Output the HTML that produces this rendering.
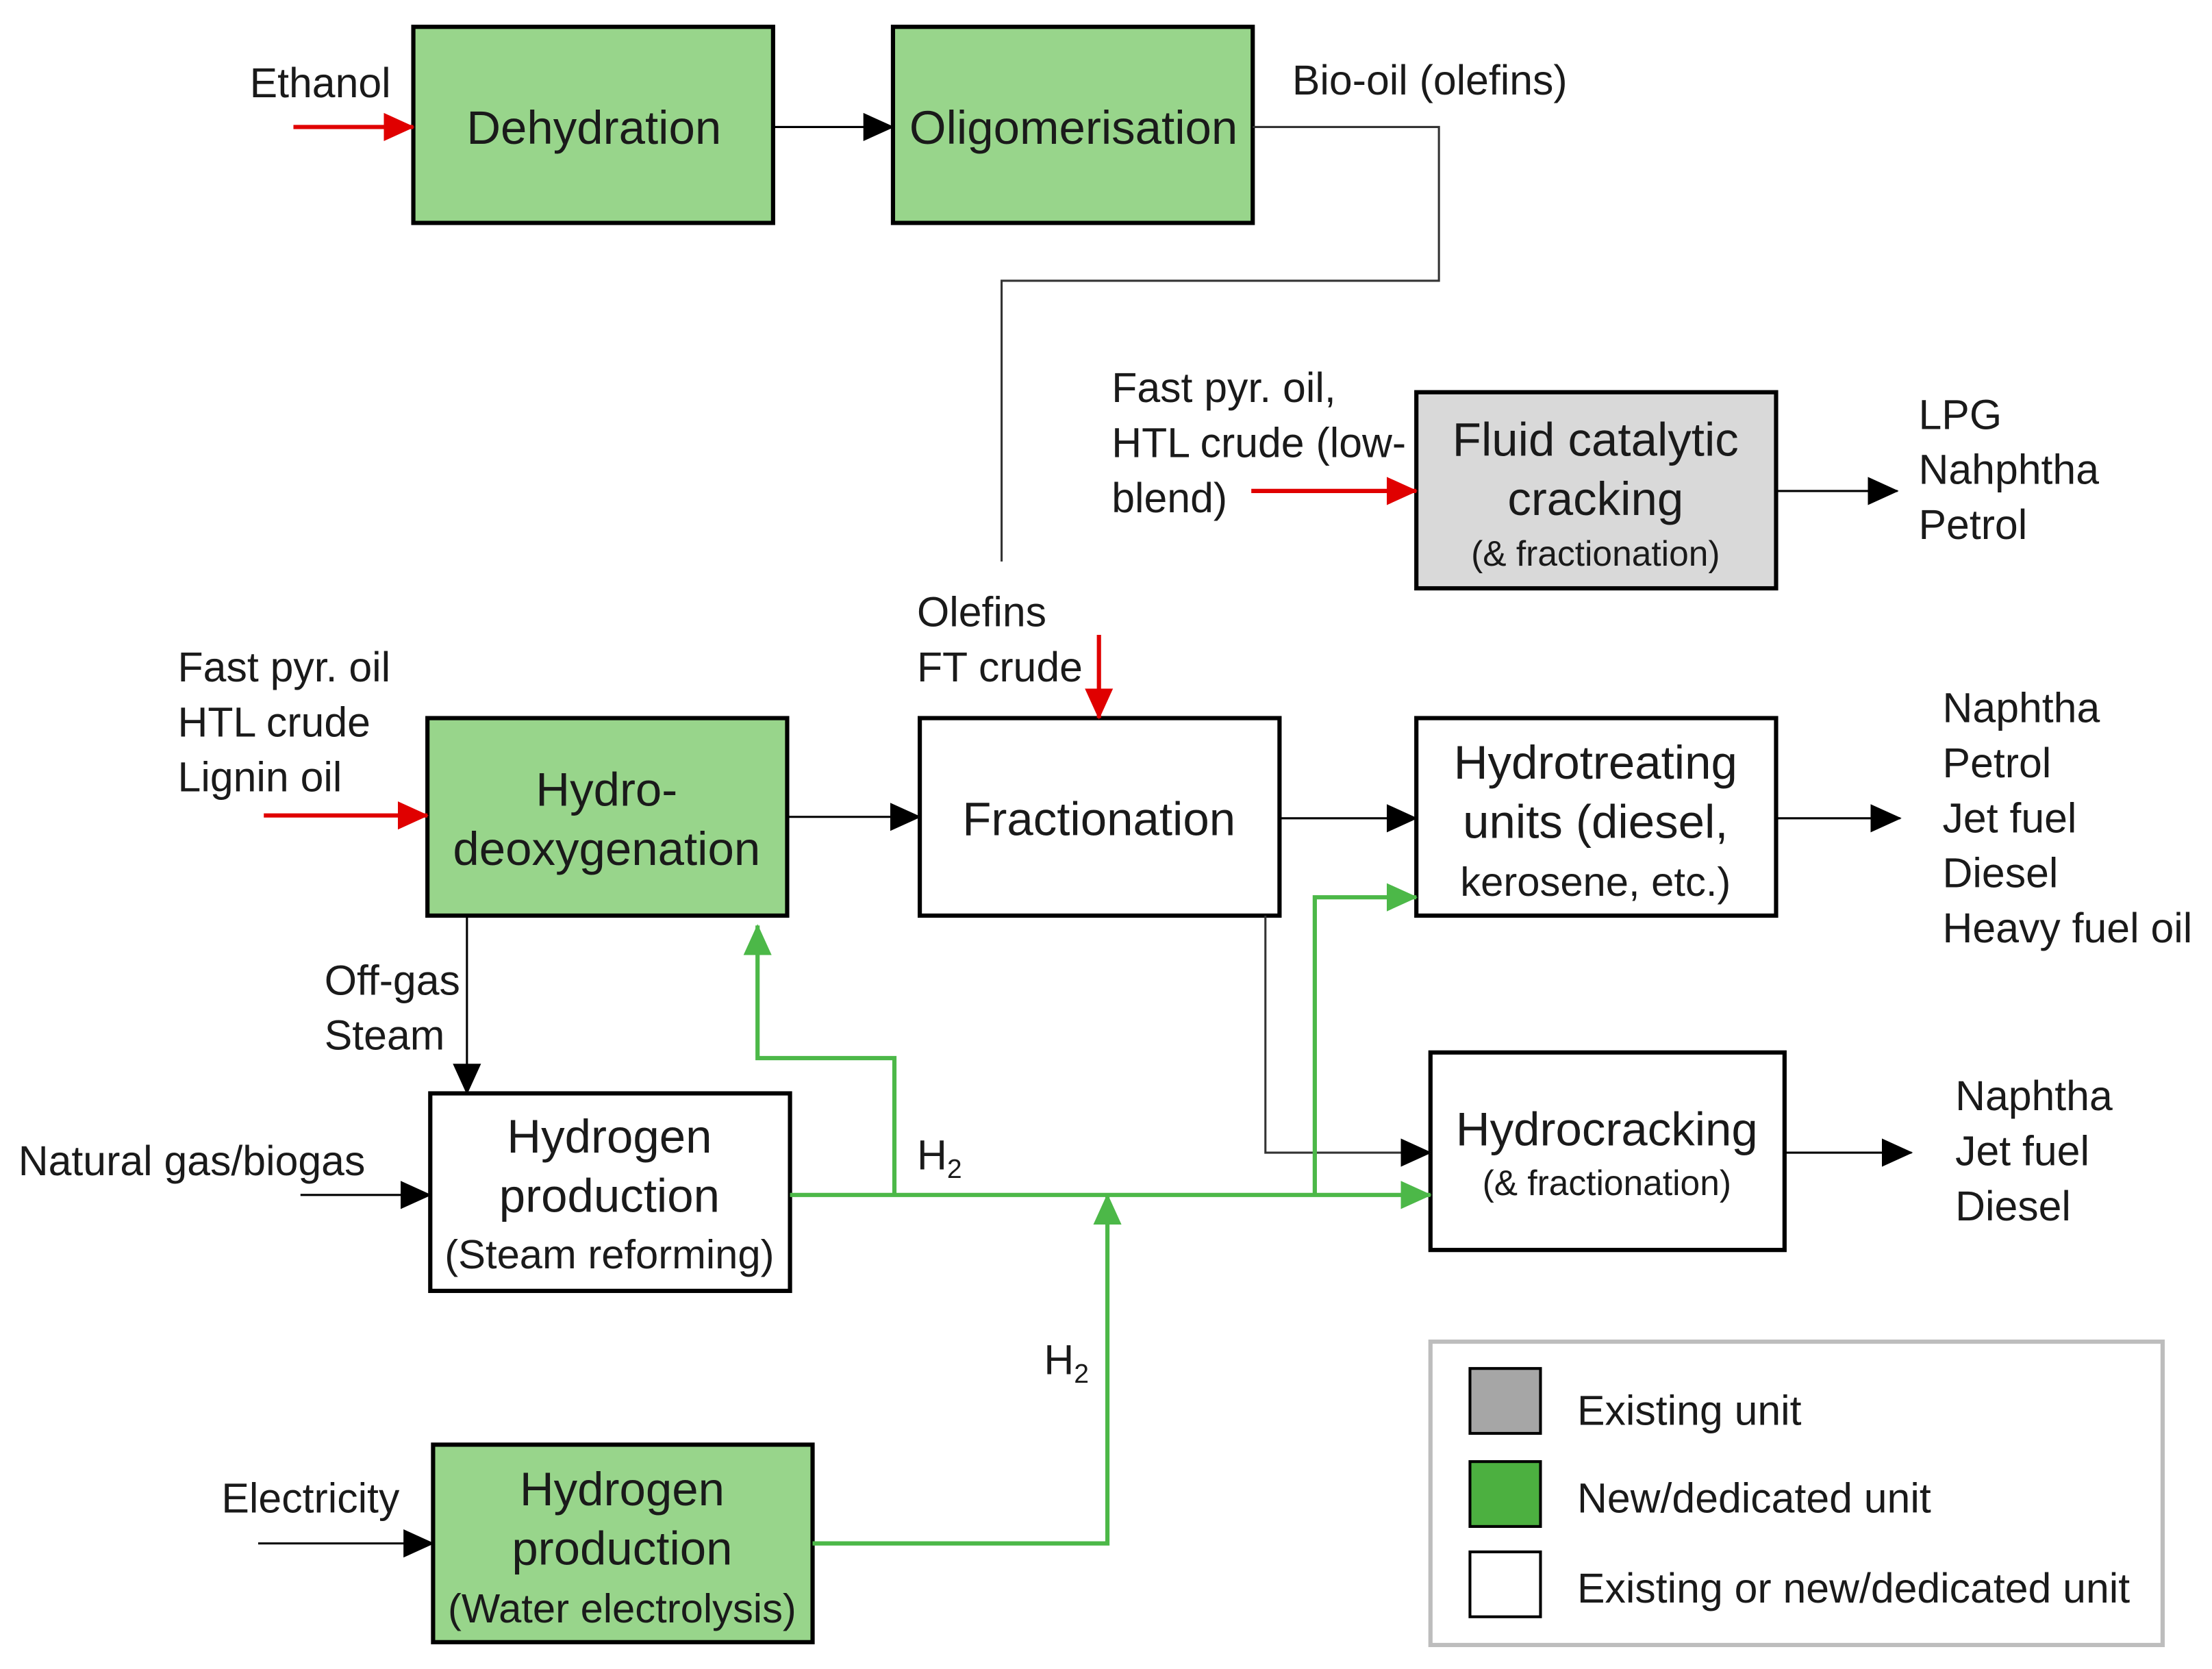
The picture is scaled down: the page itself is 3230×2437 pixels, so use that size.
<!DOCTYPE html>
<html><head><meta charset="utf-8"><style>
html,body{margin:0;padding:0;background:#fff;}
svg{display:block;}
text{font-family:"Liberation Sans",sans-serif;fill:#1a1a1a;}
</style></head><body>
<svg width="3230" height="2437" viewBox="0 0 1568 1183" xmlns="http://www.w3.org/2000/svg">
<defs>
<marker id="ak" markerWidth="22" markerHeight="22" refX="21" refY="11" orient="auto" markerUnits="userSpaceOnUse" viewBox="0 0 22 22"><path d="M0,1 L22,11 L0,21 z" fill="#000"/></marker>
<marker id="ar" markerWidth="22" markerHeight="22" refX="21" refY="11" orient="auto" markerUnits="userSpaceOnUse" viewBox="0 0 22 22"><path d="M0,1 L22,11 L0,21 z" fill="#e00000"/></marker>
<marker id="ag" markerWidth="22" markerHeight="22" refX="21" refY="11" orient="auto" markerUnits="userSpaceOnUse" viewBox="0 0 22 22"><path d="M0,1 L22,11 L0,21 z" fill="#4cb848"/></marker>
</defs>
<g stroke="#000" stroke-width="3">
<rect x="293" y="19" width="255" height="139" fill="#98d58b"/>
<rect x="633" y="19" width="255" height="139" fill="#98d58b"/>
<rect x="1004" y="278" width="255" height="139" fill="#d9d9d9"/>
<rect x="303" y="509" width="255" height="140" fill="#98d58b"/>
<rect x="652" y="509" width="255" height="140" fill="#fff"/>
<rect x="1004" y="509" width="255" height="140" fill="#fff"/>
<rect x="1014" y="746" width="251" height="140" fill="#fff"/>
<rect x="305" y="775" width="255" height="140" fill="#fff"/>
<rect x="307" y="1024" width="269" height="140" fill="#98d58b"/>
</g>
<g stroke="#000" stroke-width="1.5" fill="none">
<line x1="548" y1="90" x2="633" y2="90" marker-end="url(#ak)"/>
<polyline points="888,90 1020,90 1020,199 710,199 710,398" stroke="#333"/>
<line x1="1259" y1="348" x2="1345" y2="348" marker-end="url(#ak)"/>
<line x1="558" y1="579" x2="652" y2="579" marker-end="url(#ak)"/>
<line x1="907" y1="580" x2="1004" y2="580" marker-end="url(#ak)"/>
<line x1="1259" y1="580" x2="1347" y2="580" marker-end="url(#ak)"/>
<line x1="1265" y1="817" x2="1355" y2="817" marker-end="url(#ak)"/>
<polyline points="897,649 897,817 1014,817" marker-end="url(#ak)" stroke="#333"/>
<line x1="331" y1="649" x2="331" y2="775" marker-end="url(#ak)"/>
<line x1="213" y1="847" x2="305" y2="847" marker-end="url(#ak)"/>
<line x1="183" y1="1094" x2="307" y2="1094" marker-end="url(#ak)"/>
</g>
<g stroke="#e00000" stroke-width="3" fill="none">
<line x1="208" y1="90" x2="293" y2="90" marker-end="url(#ar)"/>
<line x1="887" y1="348" x2="1004" y2="348" marker-end="url(#ar)"/>
<line x1="187" y1="578" x2="303" y2="578" marker-end="url(#ar)"/>
<line x1="779" y1="450" x2="779" y2="509" marker-end="url(#ar)"/>
</g>
<g stroke="#4cb848" stroke-width="3" fill="none">
<line x1="560" y1="847" x2="1014" y2="847" marker-end="url(#ag)"/>
<polyline points="634,847 634,750 537,750 537,656" marker-end="url(#ag)"/>
<polyline points="932,847 932,636 1004,636" marker-end="url(#ag)"/>
<polyline points="576,1094 785,1094 785,847" marker-end="url(#ag)"/>
</g>
<g font-size="33.5" text-anchor="middle">
<text x="421" y="102">Dehydration</text>
<text x="761" y="102">Oligomerisation</text>
<text x="1131" y="323">Fluid catalytic</text>
<text x="1131" y="365">cracking</text>
<text x="1131" y="401" font-size="25">(&amp; fractionation)</text>
<text x="430" y="571">Hydro-</text>
<text x="430" y="613">deoxygenation</text>
<text x="779" y="592">Fractionation</text>
<text x="1131" y="552">Hydrotreating</text>
<text x="1131" y="594">units (diesel,</text>
<text x="1131" y="635" font-size="29">kerosene, etc.)</text>
<text x="1139" y="812">Hydrocracking</text>
<text x="1139" y="847" font-size="25">(&amp; fractionation)</text>
<text x="432" y="817">Hydrogen</text>
<text x="432" y="859">production</text>
<text x="432" y="899" font-size="29">(Steam reforming)</text>
<text x="441" y="1067">Hydrogen</text>
<text x="441" y="1109">production</text>
<text x="441" y="1150" font-size="29">(Water electrolysis)</text>
</g>
<g font-size="29.5">
<text x="177" y="69">Ethanol</text>
<text x="916" y="67">Bio-oil (olefins)</text>
<text x="788" y="285">Fast pyr. oil,</text>
<text x="788" y="324">HTL crude (low-</text>
<text x="788" y="363">blend)</text>
<text x="1360" y="304">LPG</text>
<text x="1360" y="343">Nahphtha</text>
<text x="1360" y="382">Petrol</text>
<text x="650" y="444">Olefins</text>
<text x="650" y="483">FT crude</text>
<text x="126" y="483">Fast pyr. oil</text>
<text x="126" y="522">HTL crude</text>
<text x="126" y="561">Lignin oil</text>
<text x="1377" y="512">Naphtha</text>
<text x="1377" y="551">Petrol</text>
<text x="1377" y="590">Jet fuel</text>
<text x="1377" y="629">Diesel</text>
<text x="1377" y="668">Heavy fuel oil</text>
<text x="1386" y="787">Naphtha</text>
<text x="1386" y="826">Jet fuel</text>
<text x="1386" y="865">Diesel</text>
<text x="230" y="705">Off-gas</text>
<text x="230" y="744">Steam</text>
<text x="13" y="833">Natural gas/biogas</text>
<text x="157" y="1072">Electricity</text>
<text x="650" y="829">H<tspan font-size="19" dy="6">2</tspan></text>
<text x="740" y="974">H<tspan font-size="19" dy="6">2</tspan></text>
</g>
<rect x="1014" y="951" width="519" height="215" fill="#fff" stroke="#bdbdbd" stroke-width="3"/>
<rect x="1042" y="970" width="50" height="46" fill="#a6a6a6" stroke="#000" stroke-width="2"/>
<rect x="1042" y="1036" width="50" height="46" fill="#4cb040" stroke="#000" stroke-width="2"/>
<rect x="1042" y="1100" width="50" height="46" fill="#fff" stroke="#000" stroke-width="2"/>
<g font-size="29.5">
<text x="1118" y="1010">Existing unit</text>
<text x="1118" y="1072">New/dedicated unit</text>
<text x="1118" y="1136">Existing or new/dedicated unit</text>
</g>
</svg>
</body></html>
